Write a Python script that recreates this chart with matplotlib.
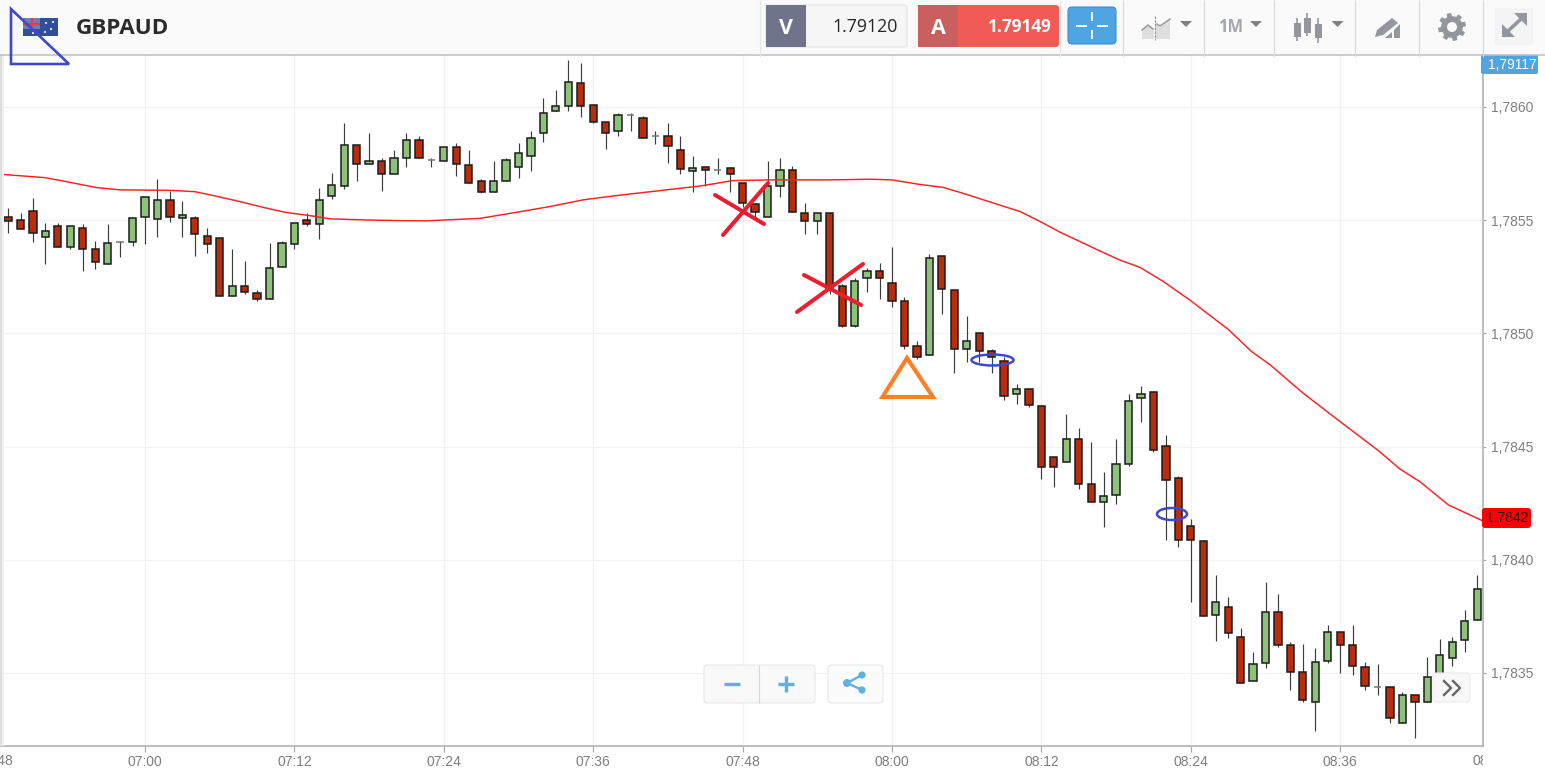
#!/usr/bin/env python3
# GBPAUD one minute candles with moving average and trading platform toolbar
import numpy as np
import matplotlib
matplotlib.use('Agg')
import matplotlib.pyplot as plt
from matplotlib.patches import Rectangle, FancyBboxPatch, Polygon, Ellipse, Circle
from matplotlib.transforms import Bbox

W, H = 1545, 777

# all candle values are pips (0.0001) away from this price
base_price = 1.7860
first_minute = -12  # minutes after 07:00, one candle per minute

opens = [
    -3.44, -4.87, -4.99, -4.58, -5.74, -5.25, -6.17, -5.36, -6.25, -6.93,
    -5.98, -5.95, -4.84, -4.96, -4.11, -4.90, -4.89, -5.68, -5.78, -8.37,
    -7.89, -8.20, -8.48, -7.05, -6.05, -5.00, -5.17, -3.94, -3.47, -1.69,
    -2.53, -2.37, -2.94, -2.27, -1.47, -2.35, -2.37, -1.78, -2.57, -3.25,
    -3.74, -3.27, -2.63, -2.16, -1.16, -0.16, 0.05, 1.05, 0.11, -0.67,
    -1.04, -0.35, -0.47, -1.26, -1.26, -1.88, -2.84, -2.66, -2.78, -2.68,
    -3.37, -4.27, -4.84, -3.47, -2.78, -4.67, -5.05, -4.67, -7.89, -9.67,
    -7.57, -7.26, -7.79, -8.58, -10.57, -10.94, -6.57, -8.10, -10.67, -9.98,
    -10.79, -11.20, -12.68, -12.45, -13.19, -15.44, -15.68, -14.68, -16.67, -17.46,
    -17.15, -15.78, -12.84, -12.57, -14.99, -16.40, -18.51, -19.17, -22.45, -22.08,
    -23.39, -25.37, -24.57, -22.29, -23.78, -24.97, -26.29, -24.47, -23.19, -23.78,
    -24.72, -25.60, -25.60, -27.19, -25.97, -26.29, -25.16, -24.35, -23.56, -22.67,
]
closes = [
    -4.84, -5.02, -5.39, -5.58, -5.46, -6.17, -5.24, -6.27, -6.83, -5.99,
    -5.98, -4.89, -3.99, -4.11, -4.84, -4.78, -5.62, -6.05, -8.37, -7.89,
    -8.15, -8.48, -7.09, -5.99, -5.14, -5.17, -4.11, -3.46, -1.69, -2.52,
    -2.37, -2.94, -2.27, -1.47, -2.27, -2.35, -1.78, -2.53, -3.37, -3.74,
    -3.25, -2.35, -2.04, -1.37, -0.25, 0.06, 1.09, 0.05, -0.65, -1.16,
    -0.37, -0.35, -1.37, -1.26, -1.73, -2.72, -2.68, -2.78, -2.78, -2.94,
    -4.25, -4.62, -3.47, -2.78, -4.64, -5.05, -4.67, -8.01, -9.67, -7.67,
    -7.26, -7.57, -8.58, -10.57, -11.06, -6.68, -8.04, -10.67, -10.35, -10.79,
    -11.06, -12.78, -12.45, -13.16, -15.89, -15.89, -14.68, -16.67, -17.46, -17.18,
    -15.77, -12.98, -12.68, -15.15, -16.46, -19.14, -19.14, -22.47, -21.88, -23.25,
    -25.45, -24.60, -22.29, -23.78, -24.97, -26.19, -24.50, -23.19, -23.78, -24.67,
    -25.56, -25.60, -26.97, -25.97, -26.29, -25.19, -24.19, -23.61, -22.72, -21.29,
]
highs = [
    -3.44, -4.47, -4.69, -4.00, -5.11, -5.11, -5.24, -5.15, -5.90, -5.15,
    -5.90, -4.89, -3.99, -3.16, -3.69, -4.16, -4.80, -5.36, -5.78, -6.27,
    -6.79, -8.08, -5.99, -5.92, -5.14, -4.69, -3.59, -2.90, -0.69, -1.68,
    -1.16, -2.27, -1.90, -1.16, -1.28, -2.24, -1.75, -1.60, -1.90, -3.18,
    -2.38, -2.27, -1.59, -1.06, 0.40, 0.74, 2.08, 1.93, 0.12, -0.67,
    -0.26, -0.26, -0.38, -1.06, -0.70, -1.28, -2.16, -2.66, -2.27, -2.66,
    -3.37, -4.25, -2.38, -2.27, -2.59, -4.25, -4.67, -4.67, -7.82, -7.57,
    -7.13, -6.90, -6.17, -8.38, -10.32, -6.49, -6.57, -8.10, -9.22, -9.98,
    -10.69, -11.03, -12.22, -12.45, -13.16, -15.44, -13.57, -14.19, -14.78, -16.11,
    -14.68, -12.69, -12.31, -12.54, -14.47, -16.30, -18.21, -19.12, -20.67, -21.66,
    -23.00, -24.09, -21.00, -21.52, -23.64, -23.72, -23.88, -22.88, -23.19, -22.88,
    -24.51, -24.62, -25.60, -25.84, -25.95, -24.31, -23.51, -23.42, -22.20, -20.67,
]
lows = [
    -4.84, -5.58, -5.39, -5.95, -6.93, -6.17, -6.27, -7.26, -7.15, -6.93,
    -6.64, -6.15, -6.05, -5.72, -5.06, -5.72, -6.56, -6.46, -8.37, -8.37,
    -8.26, -8.55, -8.48, -7.05, -6.27, -5.25, -5.84, -4.05, -3.62, -3.25,
    -2.53, -3.72, -2.94, -2.63, -2.27, -2.63, -2.37, -3.05, -3.37, -3.81,
    -3.74, -3.28, -3.15, -2.82, -1.53, -0.16, -0.16, -0.42, -0.70, -1.84,
    -1.26, -1.06, -1.38, -1.65, -2.49, -2.94, -3.74, -3.47, -2.94, -3.74,
    -4.40, -4.84, -4.84, -3.96, -4.64, -5.61, -5.61, -8.26, -9.70, -9.70,
    -8.16, -8.46, -8.82, -10.67, -11.14, -10.94, -9.14, -11.76, -11.25, -11.25,
    -11.76, -12.94, -13.13, -13.23, -16.44, -16.77, -15.68, -16.87, -17.46, -18.55,
    -17.55, -15.86, -13.93, -15.22, -19.12, -19.45, -21.88, -22.47, -23.57, -23.44,
    -25.45, -25.37, -24.78, -23.86, -25.76, -26.26, -27.54, -24.57, -24.98, -25.07,
    -25.76, -25.98, -27.19, -27.19, -27.85, -26.29, -25.16, -24.67, -24.09, -22.67,
]

ma_minutes = [
    -11.65, -8.03, -6.29, -3.88, -2.0, 2.0, 4.0, 5.47, 7.63, 9.77, 11.24, 13.25,
    14.86, 17.8, 20.48, 22.5, 26.9, 29.85, 32.5, 35.2, 37.9, 40.6, 44.6, 47.2,
    50.2, 55.0, 58.2, 60.0, 62.1, 64.1, 65.7, 67.1, 70.3, 71.9, 73.5, 76.7,
    78.3, 79.9, 81.8, 83.9, 87.0, 88.9, 90.4, 93.0, 96.0, 99.0, 100.8, 102.4,
    104.7, 107.4,
]
ma_values = [
    -2.97, -3.12, -3.30, -3.56, -3.66, -3.68, -3.74, -3.91, -4.18, -4.47, -4.65, -4.80,
    -4.94, -4.99, -5.02, -5.03, -4.92, -4.65, -4.40, -4.10, -3.91, -3.74, -3.49, -3.25,
    -3.22, -3.22, -3.19, -3.22, -3.41, -3.55, -3.81, -4.06, -4.62, -5.06, -5.53, -6.36,
    -6.76, -7.08, -7.71, -8.52, -9.82, -10.81, -11.40, -12.63, -13.90, -15.15, -15.99, -16.55,
    -17.58, -18.27,
]

xtick_minutes = [0, 12, 24, 36, 48, 60, 72, 84, 96]
xtick_labels = ['07:00', '07:12', '07:24', '07:36', '07:48', '08:00', '08:12', '08:24', '08:36']
ytick_prices = [1.7835, 1.7840, 1.7845, 1.7850, 1.7855, 1.7860]
ytick_labels = ['1,7835', '1,7840', '1,7845', '1,7850', '1,7855', '1,7860']
ma_last_label = '1,7842'
crosshair_label = '1,79117'
sell_price = '1.79120'
buy_price = '1.79149'

GREEN, RED = '#8cc279', '#b92c0c'
GREY = '#7f7f7f'
ICON = '#93979d'
BLUE = '#4fa5e2'
PEN_BLUE = '#3f48cc'
PEN_RED = '#ed1c2e'


def to_price(pips):
    return base_price + np.asarray(pips) * 1e-4


fig = plt.figure(figsize=(W / 100, H / 100), dpi=100, facecolor='white')
ax = fig.add_axes([0, (H - 746) / H, 1483 / W, (746 - 55) / H])

minutes = first_minute + np.arange(len(opens))
o, c, hi, lo = map(to_price, (opens, closes, highs, lows))

ax.vlines(minutes, lo, hi, color='#3d3d3d', lw=0.85, zorder=2)
colors = [GREEN if a < b else RED for a, b in zip(o, c)]
edges = ['#777777' if a == b else '#1c1c1c' for a, b in zip(o, c)]
ax.bar(minutes, c - o, bottom=o, width=0.58, color=colors, edgecolor=edges, lw=1.1, zorder=3)
ax.plot(ma_minutes, to_price(ma_values), color='#ff2020', lw=1.05, zorder=4)

ax.set_xlim((0 - 145) / 12.45, (1483 - 145) / 12.45)
ax.set_ylim(to_price((107 - 746) / 22.64), to_price((107 - 55) / 22.64))
ax.set_xticks(xtick_minutes, xtick_labels)
ax.set_yticks(ytick_prices, ytick_labels)
ax.grid(color='#f2f2f2', lw=0.9)
ax.set_axisbelow(True)
ax.yaxis.tick_right()
ax.tick_params(axis='x', length=4.3, width=0.9, color='#a8a8a8', pad=2.2, labelcolor=GREY, labelsize=10)
ax.tick_params(axis='y', length=2.4, width=0.9, color='#a8a8a8', pad=3.2, labelcolor=GREY, labelsize=10)
for lab in ax.get_xticklabels() + ax.get_yticklabels():
    lab.set_fontfamily('Liberation Sans')
for side in ['left', 'top']:
    ax.spines[side].set_visible(False)
for side in ['right', 'bottom']:
    ax.spines[side].set_color('#bdbdbd')
    ax.spines[side].set_linewidth(1.4)

# everything below is the platform chrome and the hand drawn marks, in screen pixels
ui = fig.add_axes([0, 0, 1, 1], zorder=5)
ui.set_xlim(0, W)
ui.set_ylim(H, 0)
ui.axis('off')


def box(x0, y0, x1, y1, color, edge='none', r=0, z=6):
    if r:
        p = FancyBboxPatch((x0 + r, y0 + r), x1 - x0 - 2 * r, y1 - y0 - 2 * r,
                           boxstyle='round,pad=%g,rounding_size=%g' % (r, r),
                           fc=color, ec=edge, lw=0.8, zorder=z)
    else:
        p = Rectangle((x0, y0), x1 - x0, y1 - y0, fc=color, ec=edge, lw=0.8, zorder=z)
    ui.add_patch(p)


def poly(pts, color, z=7):
    ui.add_patch(Polygon(pts, closed=True, fc=color, ec='none', zorder=z))


def seg(x0, y0, x1, y1, color, lw, z=7, cap='round'):
    ui.plot([x0, x1], [y0, y1], color=color, lw=lw, zorder=z, solid_capstyle=cap)


# edge shade at the left of the window
box(0, 55, 2, 746, '#dedede', z=1)
box(2, 55, 4, 746, '#f1f1f1', z=1)

# clipped time labels at both ends
clip = Bbox([[0, 0], [1483, H]])
for px, lab in [(-4, '06:48'), (1489.6, '08:48')]:
    t = ui.text(px, 761, lab, ha='center', va='center', color=GREY, fontsize=10,
                family='Liberation Sans', zorder=6)
    t.set_clip_box(clip)
    t.set_clip_on(True)

# header
box(0, 0, W, 54, '#fafafa')
seg(0, 54.5, W, 54.5, '#bdbdbd', 1.1, cap='butt')
for sx in [1123, 1204, 1274, 1355, 1419, 1483]:
    seg(sx, 0, sx, 57, '#d9d9d9', 0.8, cap='butt')
seg(760, 0, 760, 57, '#e6e6e6', 0.8, cap='butt')
seg(1060, 0, 1060, 57, '#e6e6e6', 0.8, cap='butt')
ui.text(76, 28.5, 'GBPAUD', family='Open Sans', fontweight='bold', fontsize=16.2,
        color='#2b2b2b', va='center', zorder=8)

# flag
box(23, 18, 58, 36, '#2f4f9d')
box(23, 18, 40, 29, '#6f7fb0', z=7)
seg(23, 23.5, 40, 23.5, '#e8394a', 1.5, z=8, cap='butt')
seg(31.5, 18, 31.5, 29, '#e8394a', 1.5, z=8, cap='butt')
for fx, fy in [(46, 23), (53, 22), (51, 29), (45, 32), (33, 33)]:
    ui.add_patch(Circle((fx, fy), 1.1, fc='#e9e9f5', ec='none', zorder=8))

# sell and buy boxes
box(766, 5, 907, 47, '#f6f6f6', edge='#e4e4e4', r=3)
box(766, 5, 806, 47, '#70748a', z=7)
ui.text(786, 28, 'V', color='white', fontweight='bold', family='Open Sans', fontsize=15.5,
        ha='center', va='center', zorder=8)
ui.text(898, 27.5, sell_price, color='#262626', family='Open Sans', fontsize=12.8,
        ha='right', va='center', zorder=8)
box(918, 5, 1059, 47, '#f15a55', r=3)
box(918, 5, 958, 47, '#c9605f', z=7)
ui.text(938, 28, 'A', color='white', fontweight='bold', family='Open Sans', fontsize=15.5,
        ha='center', va='center', zorder=8)
ui.text(1051, 27.5, buy_price, color='white', fontweight='bold', family='Open Sans', fontsize=12.4,
        ha='right', va='center', zorder=8)

# crosshair button
box(1068, 7, 1116, 44, BLUE, edge='#3f8fcb', r=4)
for a, b, d, e in [(1076, 25.5, 1087, 25.5), (1097, 25.5, 1108, 25.5),
                   (1092, 12, 1092, 21), (1092, 30, 1092, 39)]:
    seg(a, b, d, e, 'white', 1.3, z=8, cap='butt')

# chart type icons
poly([(1142, 30), (1148, 24), (1154, 29), (1154, 39), (1142, 39)], '#dedede')
poly([(1155, 22), (1160, 26), (1170, 18), (1170, 39), (1155, 39)], '#dedede')
ui.plot([1142, 1148, 1153], [30, 25, 29], color=ICON, lw=1.0, zorder=8)
ui.plot([1157, 1160, 1170], [24, 26, 19], color=ICON, lw=1.0, zorder=8)
ui.plot([1154.5, 1154.5], [16, 40], color=ICON, lw=0.9, ls=(0, (2, 1)), zorder=8)
for tx in [1186, 1256, 1337.5]:
    poly([(tx - 6, 21), (tx + 6, 21), (tx, 27)], '#7d8186')
ui.text(1231, 27.5, '1M', color='#a3a6aa', fontweight='bold', family='Open Sans', fontsize=12,
        ha='center', va='center', zorder=8)
for cx, w0, w1, b0, b1 in [(1297, 18, 41, 23, 37), (1307, 13, 36, 18, 33), (1318, 18, 43, 24, 38)]:
    seg(cx, w0, cx, w1, ICON, 1.2, cap='butt')
    box(cx - 3.5, b0, cx + 3.5, b1, ICON, z=8)

# pencil and bars icon
poly([(1375, 37), (1377, 30), (1392, 18), (1398, 23), (1383, 35)], ICON)
poly([(1385, 38), (1392, 32), (1392, 38)], ICON)
poly([(1394, 30), (1400, 24), (1400, 38), (1394, 38)], ICON)

# gear
ang = np.linspace(0, 2 * np.pi, 97)[:-1]
rad = np.where(((ang + np.pi / 8) % (np.pi / 4)) < np.pi / 8, 14.0, 10.8)
poly(np.c_[1452 + rad * np.cos(ang), 27 + rad * np.sin(ang)], ICON)
ui.add_patch(Circle((1452, 27), 5, fc='#fafafa', ec='none', zorder=8))

# fullscreen arrows
box(1495, 8, 1533, 45, '#f4f4f4')
seg(1507, 32, 1522, 18, ICON, 2.6, z=8, cap='butt')
poly([(1514, 13), (1527, 13), (1527, 26)], ICON, z=8)
poly([(1502, 24), (1502, 37), (1515, 37)], ICON, z=8)

# price tags on the right
box(1481, 55, 1538, 74, BLUE, r=2)
ui.text(1512, 65, crosshair_label, color='white', family='Liberation Sans', fontsize=10,
        ha='center', va='center', zorder=8)
box(1482, 508, 1531, 528, '#ff0000', r=3)
ui.text(1507, 518.5, ma_last_label, color='#2a1010', family='Liberation Sans', fontsize=10,
        ha='center', va='center', zorder=8)

# zoom and share buttons
box(704, 665, 815, 703, '#f9f9f9', edge='#e8e8e8', r=4)
seg(758.5, 665, 758.5, 703, '#d8d8d8', 0.8, cap='butt')
seg(724, 683.5, 740, 683.5, '#62b0e0', 2.4, cap='butt')
seg(778, 683.5, 794, 683.5, '#62b0e0', 2.4, cap='butt')
seg(786, 675.5, 786, 691.5, '#62b0e0', 2.4, cap='butt')
box(828, 665, 883, 703, '#fbfbfb', edge='#e8e8e8', r=4)
seg(847, 683, 862, 675, '#62b0e0', 1.7)
seg(847, 683, 862, 690, '#62b0e0', 1.7)
for sx, sy, sr in [(862, 675, 3.6), (847, 683, 4), (862, 690, 3.6)]:
    ui.add_patch(Circle((sx, sy), sr, fc='#62b0e0', ec='none', zorder=8))

# scroll to end button
box(1433, 673, 1470, 702, '#f8f8f8', edge='#ececec', r=3)
ui.plot([1444, 1451, 1444], [681, 688, 695], color='#666666', lw=1.7, zorder=8)
ui.plot([1453, 1460, 1453], [681, 688, 695], color='#666666', lw=1.7, zorder=8)

# hand drawn marks
for x0, y0, x1, y1 in [(715, 195, 764, 224), (723, 235, 768, 183),
                       (804, 275, 861, 305), (797, 312, 863, 264)]:
    seg(x0, y0, x1, y1, PEN_RED, 2.9, z=9)
ui.add_patch(Polygon([(907, 358), (882.5, 397), (933, 397)], closed=True, fc='none',
                     ec='#ff7f27', lw=3.0, zorder=9))
ui.add_patch(Ellipse((992.5, 360), 42, 11, fc='none', ec=PEN_BLUE, lw=1.8, zorder=9))
ui.add_patch(Ellipse((1172, 514), 30, 12, fc='none', ec=PEN_BLUE, lw=1.8, zorder=9))
ui.add_patch(Polygon([(11, 9), (11, 64), (69, 64)], closed=True, fc='none',
                     ec=PEN_BLUE, lw=1.9, zorder=9))

fig.savefig('out.png', dpi=100)
